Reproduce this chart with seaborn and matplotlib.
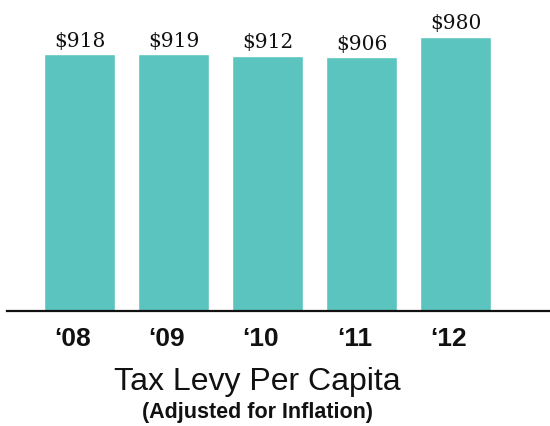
import matplotlib
matplotlib.use("Agg")
import matplotlib.pyplot as plt
import matplotlib.transforms as mtransforms
import seaborn as sns
import pandas as pd

# Tax levy per capita, adjusted for inflation
years = ["\u201808", "\u201809", "\u201810", "\u201811", "\u201812"]
levy = [918, 919, 912, 906, 980]
value_labels = ["$918", "$919", "$912", "$906", "$980"]

df = pd.DataFrame({"year": years, "levy": levy})

sns.set_theme(style="white")
plt.rcParams["font.family"] = ["Liberation Sans", "DejaVu Sans"]

fig = plt.figure(figsize=(5.5, 4.27), dpi=100)
ax = fig.add_axes([7 / 550, 115 / 427, 543 / 550, 312 / 427])

sns.barplot(data=df, x="year", y="levy", color="#5BC4BE", saturation=1,
            width=0.755, ax=ax, zorder=1)

ax.set_xlim(-0.771, 5.005)
ax.set_ylim(0, 1115)

for s in ["top", "left", "right"]:
    ax.spines[s].set_visible(False)
ax.spines["bottom"].set_color("#111111")
ax.spines["bottom"].set_linewidth(1.6)
ax.spines["bottom"].set_zorder(3)

ax.set_yticks([])
ax.set_xlabel("")
ax.set_ylabel("")
ax.tick_params(axis="x", length=0, pad=11)
for lbl in ax.get_xticklabels():
    lbl.set_fontsize(19)
    lbl.set_fontweight("bold")
    lbl.set_color("#111111")
    lbl.set_transform(lbl.get_transform() +
                      mtransforms.ScaledTranslation(-7 / 100, 0, fig.dpi_scale_trans))

for i, (v, txt) in enumerate(zip(levy, value_labels)):
    ax.annotate(txt, (i, v), xytext=(0, 6), textcoords="offset points",
                ha="center", va="baseline", fontsize=14.5,
                family="DejaVu Serif", color="#111111")

fig.text(257 / 550, 37 / 427, "Tax Levy Per Capita", ha="center",
         va="baseline", fontsize=23, color="#111111")
fig.text(257 / 550, 9 / 427, "(Adjusted for Inflation)", ha="center",
         va="baseline", fontsize=15.5, fontweight="bold", color="#111111")

fig.savefig("out.png", dpi=100)
